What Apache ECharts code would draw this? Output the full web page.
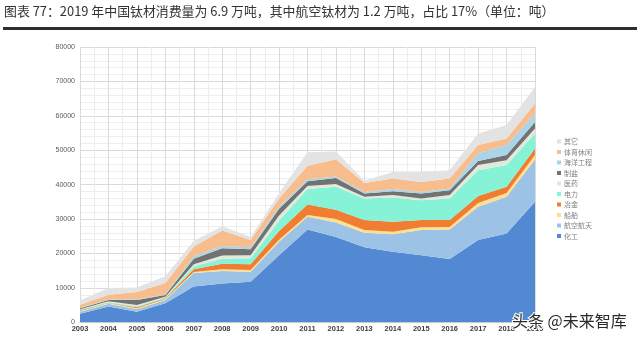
<!DOCTYPE html>
<html><head><meta charset="utf-8">
<script src="https://cdn.jsdelivr.net/npm/echarts@6/dist/echarts.min.js"></script>
<style>html,body{margin:0;padding:0;background:#fff;}#c{width:640px;height:341px;}</style>
</head><body><div id="c"></div>
<script>
const titleText = "图表 77：2019 年中国钛材消费量为 6.9 万吨，其中航空钛材为 1.2 万吨，占比 17%（单位：吨）";
const years = ["2003","2004","2005","2006","2007","2008","2009","2010","2011","2012","2013","2014","2015","2016","2017","2018","2019"];
const yTicks = [0,10000,20000,30000,40000,50000,60000,70000,80000];
const seriesNames = ["化工","航空航天","船舶","冶金","电力","医药","制盐","海洋工程","体育休闲","其它"];
const chem      = [2500,4600,3100,5500,10400,11300,11800,19500,27000,24800,21800,20500,19500,18400,23900,25800,35000];
const aero      = [600,800,700,1000,3900,3600,2900,3900,3700,4200,4200,5100,7300,8600,9700,10700,12300];
const ship      = [200,200,300,300,300,500,500,600,500,1000,800,700,800,700,1100,1100,1300];
const metal     = [200,100,300,200,800,1600,1700,2500,3000,2700,2900,2900,2100,2000,2000,1800,1900];
const power     = [200,200,200,200,900,1500,1700,3000,4500,6700,6300,7100,5800,6300,7500,6300,4400];
const medical   = [100,200,400,200,600,900,900,1500,900,800,500,700,500,1000,1500,1400,1400];
const salt      = [300,400,1500,500,1600,2100,1700,2000,1400,1700,900,1100,1400,1400,1200,1500,1900];
const ocean     = [100,100,200,200,700,700,600,600,600,500,500,600,500,500,2200,2900,2500];
const sport     = [900,1400,2100,3300,2800,4500,2100,2400,3900,5000,2600,3100,2900,2900,2400,1900,2900];
const other     = [1200,2000,1300,2000,1600,1200,900,1500,3900,2200,600,1900,2900,2400,3400,3900,4800];
const seriesValues = [chem,aero,ship,metal,power,medical,salt,ocean,sport,other];
const colors = ["#5289d2","#9cc3e6","#ffdf8e","#ef7d32","#86f2d6","#e2e9da","#717272","#aad4e8","#f8bd8c","#e3e3e3"];

const chart = echarts.init(document.getElementById('c'), null, {renderer:'canvas'});
const series = seriesNames.map((n,i)=>({
  name:n, type:'line', stack:'total', data:seriesValues[i],
  showSymbol:false, symbol:'none', lineStyle:{width:0},
  areaStyle:{color:colors[i], opacity:1}, itemStyle:{color:colors[i]},
  xAxisIndex:0, yAxisIndex:0, z:2
}));
chart.setOption({
  animation:false,
  backgroundColor:'#fff',
  grid:{left:80, right:105, top:47, bottom:18.7, containLabel:false},
  legend:{
    orient:'vertical', left:552, top:133, itemWidth:4, itemHeight:4, itemGap:3.5,
    icon:'rect', data:seriesNames.slice().reverse(),
    textStyle:{fontSize:7, color:'#808080', fontFamily:'Noto Sans CJK SC', padding:[0,0,0,-2]}
  },
  xAxis:[{
    type:'category', data:years, boundaryGap:false,
    axisLine:{show:true, lineStyle:{color:'#d0d0d0'}}, axisTick:{show:false},
    splitLine:{show:false},
    axisLabel:{fontSize:7.5, color:'#404040', fontWeight:'bold', margin:3, fontFamily:'Liberation Sans', interval:0}
  },{
    type:'value', min:2003, max:2019, interval:1, position:'bottom',
    axisLine:{show:false}, axisTick:{show:false}, axisLabel:{show:false},
    splitLine:{show:true, lineStyle:{color:'#dadada', width:1}},
    minorTick:{show:false, splitNumber:2},
    minorSplitLine:{show:true, lineStyle:{color:'#ededed', width:1}}
  }],
  yAxis:{
    type:'value', min:0, max:80000, interval:10000,
    axisLine:{show:false}, axisTick:{show:false},
    axisLabel:{fontSize:7, color:'#595959', margin:5, fontFamily:'Liberation Sans',
      formatter:function(v){return yTicks.indexOf(v)>=0 ? String(v) : '';}},
    splitLine:{show:true, lineStyle:{color:'#d9d9d9', width:1}},
    minorTick:{show:false, splitNumber:5},
    minorSplitLine:{show:true, lineStyle:{color:'#eeeeee', width:1}}
  },
  series:series,
  graphic:[
    {type:'text', left:4, top:5, style:{text:titleText, fontSize:12.9, fill:'#333', fontFamily:'Noto Sans CJK SC'}},
    {type:'rect', shape:{x:3, y:27, width:634, height:3}, style:{fill:'#2e2e2e'}},
    {type:'text', left:511, top:312, z:100, style:{text:'头条 @未来智库', fontSize:16, fill:'#2a2a2a', stroke:'#fff', lineWidth:2, fontFamily:'Noto Sans CJK SC'}}
  ]
});
</script></body></html>
